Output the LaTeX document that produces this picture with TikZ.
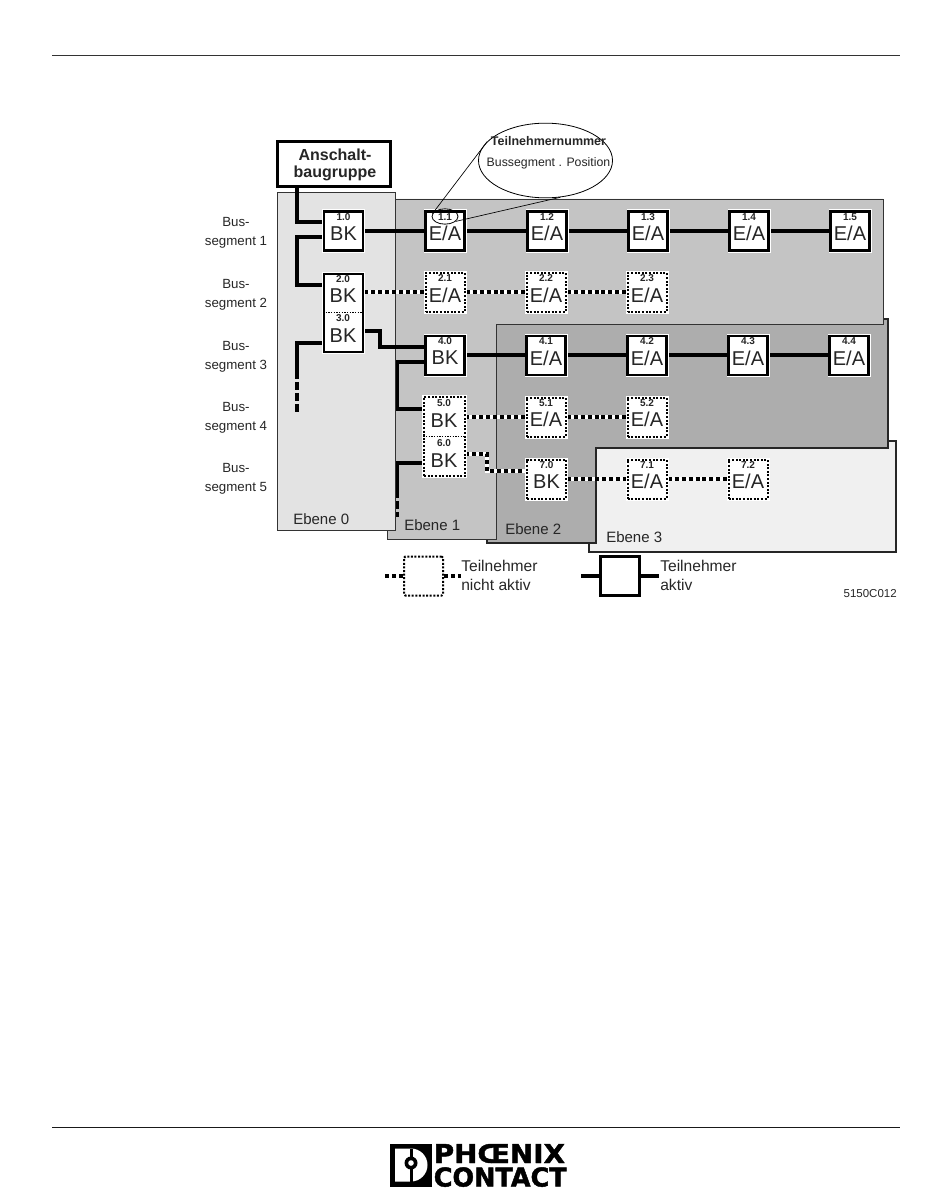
\documentclass[tikz,border=0pt]{standalone}
\usepackage{fontspec}
\setmainfont{Liberation Sans}
\newfontfamily\logofont[BoldFeatures={FakeBold=1.6}]{DejaVu Sans}
\usetikzlibrary{shapes.geometric,calc}
\newcommand{\px}[2][0]{\fontsize{\dimexpr#2pt*3/4\relax}{\dimexpr#2pt*9/10+#1pt*3/4\relax}\selectfont}
\tikzset{
  x=0.75pt,y=-0.75pt,
  panel/.style={draw=black!80,line width=0.7pt},
  edge/.style={draw=black!85,line width=1.5pt},
  boxbase/.style={fill=white,minimum width=29.25pt,minimum height=29.25pt,inner sep=0pt,outer sep=0pt,
     text=black!85,font=\px{20},text depth=0pt},
  active/.style={boxbase,draw=black,line width=1.7pt},
  passive/.style={boxbase,draw=black,line width=1.5pt,dash pattern=on 1.5pt off 1.2pt},
  num/.style={font=\bfseries\px{10},text=black!85,inner sep=0pt},
  main/.style={font=\px{20},text=black!85,inner sep=0pt},
  bus/.style={draw=black,line width=2.5pt},
  buslit/.style={draw=black,line width=2.5pt,preaction={draw=white,line width=3.6pt}},
  busoff/.style={draw=black,line width=2.5pt,dash pattern=on 3pt off 2.2pt,preaction={draw=white,line width=3.6pt,solid}},
  busdash/.style={draw=black,line width=2.5pt,dash pattern=on 6pt off 2.2pt},
  lab/.style={font={\px[3.2]{13.3}},text=black!85,align=center,inner sep=0pt},
  ebene/.style={font=\px{15},text=black!85,anchor=west,inner sep=0pt},
  legtxt/.style={font=\px{15.6},text=black!85,align=left,anchor=west,inner sep=0pt},
  logotxt/.style={font=\logofont\bfseries\px{26},inner sep=0pt,anchor=west,text height=14.25pt,text depth=0pt},
}
\newcommand{\unit}[6]{% style, name, cx, cy, main text, number
  \node[#1] (#2) at (#3,#4) {\raisebox{-3.6pt}{#5}};
  \node[num] (#2n) at (#3,#4-14) {#6};
}
\begin{document}
\begin{tikzpicture}
\useasboundingbox (0,0) rectangle (950,1198);
% page rules
\coordinate (tl) at (52,55.5); \coordinate (tr) at (900,55.5);
\coordinate (bl) at (52,1127.5); \coordinate (br) at (900,1127.5);
\draw[line width=0.75pt,black!80] (tl) -- (tr);
\draw[line width=0.75pt,black!90] (bl) -- (br);
% panels
\fill[black!6] (596,448) -- (889,448) -- (889,441) -- (896,441) -- (896,552) -- (589,552) -- (589,543) -- (596,543) -- cycle;
\draw[edge] (889,441) -- (896,441) -- (896,552) -- (589,552) -- (589,543);
\draw[panel,fill=black!32] (496,324) -- (883,324) -- (883,319) -- (888,319) -- (888,448) -- (596,448) -- (596,543) -- (487,543) -- (487,539) -- (496,539) -- cycle;
\draw[edge] (883,319) -- (888,319) -- (888,448) -- (596,448) -- (596,543) -- (487,543) -- (487,539);
\draw[panel,fill=black!23] (394,199) -- (883,199) -- (883,324) -- (496,324) -- (496,539) -- (387,539) -- (387,530) -- (394,530) -- cycle;
\draw[panel,fill=black!11,line width=0.7pt] (277,192) rectangle (395,530);
% panel labels
\node[ebene] (eb0) at (293,519) {Ebene 0};
\node[ebene] (eb1) at (404,525) {Ebene 1};
\node[ebene] (eb2) at (505,529) {Ebene 2};
\node[ebene] (eb3) at (606,537) {Ebene 3};
% segment labels
\node[lab] (s1) at (236,233) {Bus-\\segment 1};
\node[lab] (s2) at (236,294.5) {Bus-\\segment 2};
\node[lab] (s3) at (236,356.5) {Bus-\\segment 3};
\node[lab] (s4) at (236,417.5) {Bus-\\segment 4};
\node[lab] (s5) at (236,479) {Bus-\\segment 5};
% head-end
\node[draw=black,fill=white,line width=1.8pt,minimum width=85pt,minimum height=33.5pt,inner sep=0pt] (head) at (334,164) {};
\node[inner sep=0pt,align=center,font={\bfseries\px[-2]{16}},text=black!85] (headt) at (335,165) {Anschalt-\\baugruppe};
\coordinate (c1) at (297,222);
\coordinate (c2) at (297,237);
\coordinate (c3) at (297,285);
\coordinate (c4) at (297,343);
\coordinate (c5) at (297,371);
\coordinate (c6) at (297,412);
\coordinate (c7) at (380,331);
\coordinate (c8) at (380,347);
\coordinate (c9) at (397.5,362);
\coordinate (c10) at (397.5,409);
\coordinate (c11) at (397.5,463);
\coordinate (c12) at (397.5,490);
\coordinate (c13) at (397.5,517);
\coordinate (c14) at (487,454);
\coordinate (c15) at (487,471);
\foreach \n/\x/\y in {b10/343.5/231,e11/445/231,e12/547/231,e13/648/231,e14/749/231,e15/850/231,
   b20/343.5/292,e21/445/292,e22/546/292,e23/647/292,
   b40/445/355,e41/546/355,e42/647/355,e43/748/355,e44/849/355,
   b50/444.5/417,e51/546/417,e52/647/417,b60/444.5/454,b70/546.5/479,e71/647/479,e72/748/479}
  \coordinate (\n c) at (\x,\y);
\coordinate (a1) at (297,186); \coordinate (a2) at (324,222);
\coordinate (a3) at (324,237); \coordinate (a4) at (324,285);
\coordinate (a5) at (324,343); \coordinate (a6) at (363,331);
\coordinate (a7) at (425,347); \coordinate (a8) at (425,362);
\coordinate (a9) at (424,409); \coordinate (a10) at (424,463);
\coordinate (a11) at (527,471);
\draw[bus] (a1) -- (c1) -- (a2);
\draw[bus] (a3) -- (c2) -- (c3) -- (a4);
\draw[bus] (a5) -- (c4) -- (c5);
\draw[busdash] (c5) -- (c6);
\draw[bus] (a6) -- (c7) -- (c8) -- (a7);
\draw[bus] (a8) -- (c9) -- (c10) -- (a9);
\draw[bus] (a10) -- (c11) -- (c12);
\draw[busdash] (c12) -- (c13);
\draw[bus] (b10c) -- (e11c);
\draw[bus] (e11c) -- (e12c);
\draw[bus] (e12c) -- (e13c);
\draw[bus] (e13c) -- (e14c);
\draw[bus] (e14c) -- (e15c);
\draw[busoff] (b20c) -- (e21c);
\draw[busoff] (e21c) -- (e22c);
\draw[busoff] (e22c) -- (e23c);
\draw[buslit] (b40c) -- (e41c);
\draw[buslit] (e41c) -- (e42c);
\draw[buslit] (e42c) -- (e43c);
\draw[buslit] (e43c) -- (e44c);
\draw[busoff] (b50c) -- (e51c);
\draw[busoff] (e51c) -- (e52c);
\draw[busoff] (b60c) -- (c14) -- (c15) -- (a11);
\draw[busoff] (b70c) -- (e71c);
\draw[busoff] (e71c) -- (e72c);
% white halos
\foreach \c in {b10c,e11c,e12c,e13c,e14c,e15c,e21c,e22c,e23c,b40c,e41c,e42c,e43c,e44c,e51c,e52c,b70c,e71c,e72c}
  \fill[white] ($(\c)+(-21.5,-21.5)$) rectangle ($(\c)+(21.5,21.5)$);
\fill[white] (322,272) rectangle (365,354);
\fill[white] (422,395) rectangle (467,478);
% units
\unit{active}{b10}{343.5}{231}{BK}{1.0}
\unit{active}{e11}{445}{231}{E/A}{1.1}
\unit{active}{e12}{547}{231}{E/A}{1.2}
\unit{active}{e13}{648}{231}{E/A}{1.3}
\unit{active}{e14}{749}{231}{E/A}{1.4}
\unit{active}{e15}{850}{231}{E/A}{1.5}
\unit{passive}{e21}{445}{292.5}{E/A}{2.1}
\unit{passive}{e22}{546}{292.5}{E/A}{2.2}
\unit{passive}{e23}{647}{292.5}{E/A}{2.3}
\unit{active}{b40}{445}{355.5}{BK}{4.0}
\unit{active}{e41}{546}{355.5}{E/A}{4.1}
\unit{active}{e42}{647}{355.5}{E/A}{4.2}
\unit{active}{e43}{748}{355.5}{E/A}{4.3}
\unit{active}{e44}{849}{355.5}{E/A}{4.4}
\unit{passive}{e51}{546}{417}{E/A}{5.1}
\unit{passive}{e52}{647}{417}{E/A}{5.2}
\unit{passive}{b70}{546.5}{479}{BK}{7.0}
\unit{passive}{e71}{647}{479}{E/A}{7.1}
\unit{passive}{e72}{748}{479}{E/A}{7.2}
% double units
\node[draw=black,fill=white,line width=1.7pt,minimum width=29.25pt,minimum height=58.5pt,inner sep=0pt] (b23) at (343.5,313) {};
\draw[line width=0.6pt,dash pattern=on 1pt off 1pt] (b23.west |- 343,312.5) -- (b23.east |- 343,312.5);
\node[draw=black,fill=white,line width=1.5pt,dash pattern=on 1.5pt off 1.2pt,minimum width=30.5pt,minimum height=59.5pt,inner sep=0pt] (b56) at (444.5,436.5) {};
\draw[line width=0.6pt,dash pattern=on 1pt off 1pt] (b56.west |- 444,436.5) -- (b56.east |- 444,436.5);
\node[num] (n20) at (343,279) {2.0};
\node[main] (t20) at (343,295.5) {BK};
\node[num] (n30) at (343,318) {3.0};
\node[main] (t30) at (343,335.5) {BK};
\node[num] (n50) at (444,403) {5.0};
\node[main] (t50) at (444,420.5) {BK};
\node[num] (n60) at (444,443) {6.0};
\node[main] (t60) at (444,461) {BK};
% callout
\node[draw=black,fill=white,ellipse,line width=0.6pt,minimum width=100.5pt,minimum height=56pt,inner sep=0pt] (call) at (545.5,160.5) {};
\node[font=\bfseries\px{12.5},text=black!85,inner sep=0pt] (callA) at (548.5,141.5) {Teilnehmernummer};
\node[font=\px{12.3},text=black!85,inner sep=0pt] (callB) at (548.5,163.5) {Bussegment . Position};
\node[draw=black,ellipse,line width=0.6pt,minimum width=19.5pt,minimum height=11.5pt,inner sep=0pt] (small) at (445,216.5) {};
\draw[line width=0.5pt] (small.167) -- (call.162);
\draw[line width=0.5pt] (small.-25) -- (call.-68);
% legend
\coordinate (lp1) at (385,576); \coordinate (lp2) at (461,576);
\coordinate (la1) at (581,576); \coordinate (la2) at (659,576);
\node[draw=black,line width=1.5pt,dash pattern=on 1.5pt off 1.2pt,rounded corners=1pt,minimum width=29.25pt,minimum height=29.25pt,inner sep=0pt] (lp) at (423.5,576) {};
\node[draw=black,line width=1.7pt,minimum width=29.25pt,minimum height=29.25pt,inner sep=0pt] (la) at (620,576) {};
\draw[draw=black,line width=2.5pt,dash pattern=on 3pt off 2.2pt] (lp1) -- (lp.west);
\draw[draw=black,line width=2.5pt,dash pattern=on 3pt off 2.2pt] (lp.east) -- (lp2);
\draw[line width=2.5pt] (la1) -- (la.west);
\draw[line width=2.5pt] (la.east) -- (la2);
\node[legtxt] (ltp) at (461,575.5) {Teilnehmer\\nicht aktiv};
\node[legtxt] (lta) at (660,575.5) {Teilnehmer\\aktiv};
\node[font=\px{11.5},text=black!85,anchor=east,inner sep=0pt] (code) at (897,594) {5150C012};
% logo
\fill[black] (390,1143.5) rectangle (432,1187);
\fill[white] (395,1148.5) -- (411,1148.5) arc (-90:90:16.5) -- (395,1181.5) -- cycle;
\fill[black] (410,1148.5) rectangle (413,1181.5);
\fill[black] (411,1163) circle (6.5);
\fill[white] (411,1163) circle (2.8);
\node[logotxt,xscale=1.07] (lg1) at (433.5,1153.5) {PHŒNIX};
\node[logotxt,xscale=0.98] (lg2) at (433.5,1177) {CONTACT};
\end{tikzpicture}
\end{document}
